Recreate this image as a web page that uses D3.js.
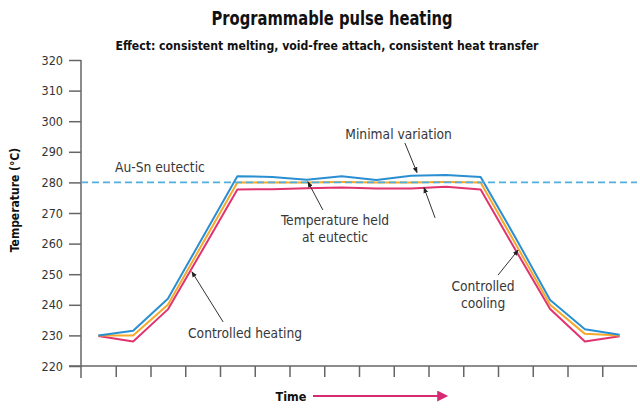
<!DOCTYPE html>
<html>
<head>
<meta charset="utf-8">
<script src="https://cdn.jsdelivr.net/npm/d3@7"></script>
<style>
  html, body { margin: 0; padding: 0; background: #fff; }
  svg { display: block; }
  text { font-family: "Liberation Sans Narrow", "Arial Narrow", "DejaVu Sans Condensed", sans-serif; }
</style>
</head>
<body>
<svg id="chart" width="640" height="410"></svg>
<script>
// ---------------- data ----------------
const timeSteps = [0, 1, 2, 3, 4, 5, 6, 7, 8, 9, 10, 11, 12, 13, 14, 15];
const bluePath   = [230.0, 231.5, 242.0, 262.0, 282.0, 281.8, 280.9, 282.0, 280.8, 282.2, 282.4, 281.8, 262.0, 241.6, 232.0, 230.2];
const orangePath = [230.0, 230.0, 240.0, 260.0, 280.0, 280.0, 280.0, 280.1, 280.0, 280.0, 280.1, 280.0, 260.0, 240.0, 230.5, 230.0];
const pinkPath   = [229.8, 228.0, 238.5, 258.0, 277.7, 277.8, 278.1, 278.3, 278.0, 278.0, 278.6, 277.7, 258.0, 238.6, 228.0, 229.7];
const yTicks = [220, 230, 240, 250, 260, 270, 280, 290, 300, 310, 320];
const eutecticTemp = 280;

const titleText = "Programmable pulse heating";
const subtitleText = "Effect: consistent melting, void-free attach, consistent heat transfer";
const yLabel = "Temperature (\u00B0C)";
const xLabel = "Time";

// annotations in data units (time position, temperature)
const annoTexts = [
  { lines: ["Au-Sn eutectic"], u: 0.98, t: 285, anchor: "start" },
  { lines: ["Minimal variation"], u: 9.14, t: 295.8, anchor: "middle" },
  { lines: ["Temperature held", "at eutectic"], u: 7.31, t: 267.7, anchor: "middle" },
  { lines: ["Controlled heating"], u: 4.72, t: 230.8, anchor: "middle" },
  { lines: ["Controlled", "cooling"], u: 11.57, t: 246.1, anchor: "middle" }
];
const annoArrows = [
  { u1: 9.32, t1: 292.9, u2: 9.67, t2: 283.2 },
  { u1: 6.96, t1: 271.0, u2: 6.53, t2: 280.2 },
  { u1: 10.19, t1: 268.4, u2: 9.87, t2: 278.3 },
  { u1: 4.09, t1: 234.4, u2: 3.19, t2: 250.8 },
  { u1: 12.0, t1: 249.7, u2: 12.58, t2: 257.9 }
];

// ---------------- layout ----------------
const svg = d3.select("#chart");
const mLeft = 81, mRight = 637, mTop = 60, mBottom = 366;

const x = d3.scaleBand().domain(timeSteps).range([mLeft, mRight]).padding(0);
const xLin = d3.scaleLinear().domain([0, timeSteps.length]).range([mLeft, mRight]);
const y = d3.scaleLinear().domain([220, 320]).range([mBottom, mTop]);

const axisColor = "#666";
const fontStack = '"Liberation Sans Narrow", "Arial Narrow", "DejaVu Sans Condensed", sans-serif';

// title
svg.append("text").attr("x", 332).attr("y", 25).attr("text-anchor", "middle")
  .attr("font-size", 20).attr("font-weight", "bold").attr("fill", "#111")
  .attr("textLength", 241).attr("lengthAdjust", "spacingAndGlyphs").text(titleText);
svg.append("text").attr("x", 327).attr("y", 50).attr("text-anchor", "middle")
  .attr("font-size", 12).attr("font-weight", "bold").attr("fill", "#111")
  .attr("textLength", 423).attr("lengthAdjust", "spacingAndGlyphs").text(subtitleText);

// y axis
const yAxis = svg.append("g").attr("transform", `translate(${mLeft},0)`)
  .call(d3.axisLeft(y).tickValues(yTicks).tickSize(12).tickPadding(6).tickFormat(d3.format("d")));
yAxis.select(".domain").attr("stroke", axisColor).attr("stroke-width", 1.5).attr("d", `M0,${mTop}V${mBottom + 12}`);
yAxis.selectAll(".tick line").attr("stroke", axisColor).attr("stroke-width", 1.5);
yAxis.selectAll(".tick text").attr("font-size", 12.5).attr("fill", "#333").style("font-family", fontStack);

// x axis
const xAxis = svg.append("g").attr("transform", `translate(0,${mBottom})`)
  .call(d3.axisBottom(xLin).tickValues(d3.range(1, timeSteps.length)).tickSize(11).tickFormat(""));
xAxis.select(".domain").attr("stroke", axisColor).attr("stroke-width", 1.5).attr("d", `M${mLeft - 12},0H${mRight}`);
xAxis.selectAll(".tick line").attr("stroke", axisColor).attr("stroke-width", 1.5);

// y label
svg.append("text").attr("transform", `translate(19,200) rotate(-90)`).attr("text-anchor", "middle")
  .attr("font-size", 12).attr("font-weight", "bold").attr("fill", "#111").text(yLabel);

// markers
const defs = svg.append("defs");
defs.append("marker").attr("id", "pinkHead").attr("viewBox", "0 0 10 10").attr("refX", 8).attr("refY", 5)
  .attr("markerWidth", 6).attr("markerHeight", 5).attr("markerUnits", "strokeWidth").attr("orient", "auto")
  .append("path").attr("d", "M0,0L10,5L0,10Z").attr("fill", "#d62a72");
defs.append("marker").attr("id", "darkHead").attr("viewBox", "0 0 10 10").attr("refX", 9).attr("refY", 5)
  .attr("markerWidth", 6).attr("markerHeight", 6).attr("markerUnits", "userSpaceOnUse").attr("orient", "auto")
  .append("path").attr("d", "M0,1L10,5L0,9Z").attr("fill", "#222");

// x label with arrow
svg.append("text").attr("x", 291).attr("y", 401).attr("text-anchor", "middle")
  .attr("font-size", 12.5).attr("font-weight", "bold").attr("fill", "#111").text(xLabel);
svg.append("line").attr("x1", 313).attr("y1", 396).attr("x2", 446).attr("y2", 396)
  .attr("stroke", "#d62a72").attr("stroke-width", 2.2).attr("marker-end", "url(#pinkHead)");

// series lines
const line = d3.line()
  .x((d, i) => x(timeSteps[i]) + x.bandwidth() / 2)
  .y(d => y(d));

const series = [
  { values: pinkPath, color: "#e0336f" },
  { values: orangePath, color: "#f4a92a" },
  { values: bluePath, color: "#2a8fd2" }
];
svg.append("g").selectAll("path").data(series).join("path")
  .attr("d", d => line(d.values)).attr("fill", "none")
  .attr("stroke", d => d.color).attr("stroke-width", 2).attr("stroke-linejoin", "round");

// eutectic dashed line
svg.append("line").attr("x1", mLeft).attr("x2", mRight).attr("y1", y(eutecticTemp)).attr("y2", y(eutecticTemp))
  .attr("stroke", "#4fb0e0").attr("stroke-width", 1.8).attr("stroke-dasharray", "7,4");

// annotations
svg.append("g").selectAll("line").data(annoArrows).join("line")
  .attr("x1", d => xLin(d.u1)).attr("y1", d => y(d.t1))
  .attr("x2", d => xLin(d.u2)).attr("y2", d => y(d.t2))
  .attr("stroke", "#333").attr("stroke-width", 1).attr("marker-end", "url(#darkHead)");

const at = svg.append("g").selectAll("text").data(annoTexts).join("text")
  .attr("x", d => xLin(d.u)).attr("y", d => y(d.t) + 5)
  .attr("text-anchor", d => d.anchor).attr("font-size", 13.7).attr("fill", "#383838");
at.selectAll("tspan").data(d => d.lines.map(l => ({ l, u: d.u }))).join("tspan")
  .attr("x", d => xLin(d.u)).attr("dy", (d, i) => i === 0 ? 0 : 17).text(d => d.l);
</script>
</body>
</html>
